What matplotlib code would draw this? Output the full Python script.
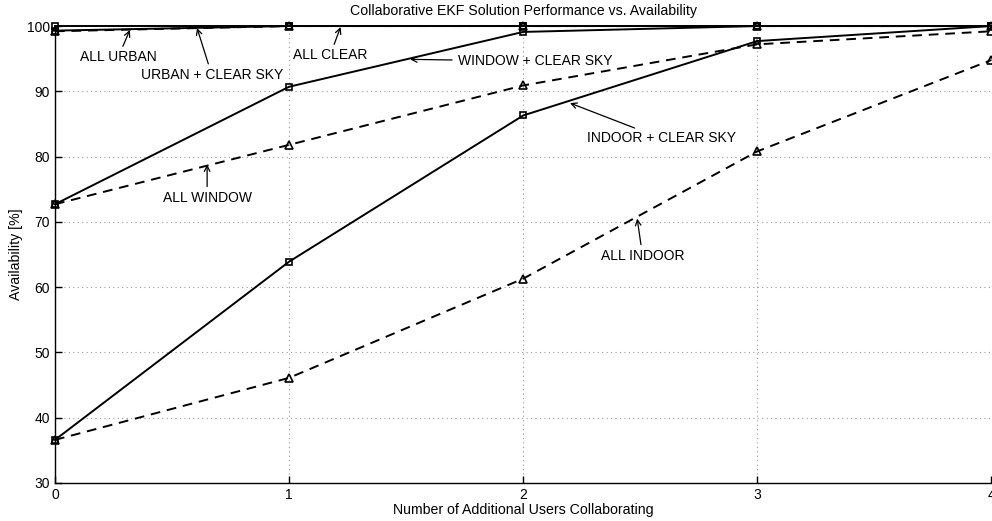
import matplotlib.pyplot as plt

plt.rcParams['font.family'] = ['Liberation Sans', 'DejaVu Sans']

users = [0, 1, 2, 3, 4]

all_clear = [100, 100, 100, 100, 100]
urban_clear = [99.3, 100, 100, 100, 100]
all_urban = [99.2, 100, 100, 100, 100]
window_clear = [72.7, 90.7, 99.1, 100, 100]
all_window = [72.7, 81.8, 90.9, 97.2, 99.2]
indoor_clear = [36.6, 63.9, 86.3, 97.7, 100]
all_indoor = [36.6, 46.1, 61.3, 80.8, 94.8]

# (label, arrow head, text position)
notes = [
    ("ALL URBAN", (0.32, 99.4), (0.27, 95.2)),
    ("URBAN + CLEAR SKY", (0.607, 99.7), (0.67, 92.5)),
    ("ALL CLEAR", (1.22, 99.85), (1.175, 95.5)),
    ("ALL WINDOW", (0.65, 78.8), (0.65, 73.7)),
    ("INDOOR + CLEAR SKY", (2.20, 88.2), (2.59, 82.8)),
    ("ALL INDOOR", (2.487, 70.5), (2.51, 64.8)),
]

fig = plt.figure(figsize=(9.92, 5.21), dpi=100)
ax = fig.add_axes([0.0554, 0.073, 0.944, 0.877])

sq = dict(color='black', lw=1.4, marker='s', ms=4, mfc='none', mew=1.2, clip_on=False)
tri = dict(color='black', lw=1.4, marker='^', ms=5.5, mfc='none', mew=1.2,
           linestyle=(0, (5, 3.5)), clip_on=False)

ax.plot(users, all_indoor, **tri)
ax.plot(users, indoor_clear, **sq)
ax.plot(users, all_window, **tri)
ax.plot(users, window_clear, **sq)
ax.plot(users, all_urban, **tri)
ax.plot(users, urban_clear, **sq)
ax.plot(users, all_clear, **sq)

for txt, head, pos in notes:
    ax.annotate(txt, xy=head, xytext=pos, ha='center', va='center', fontsize=10,
                arrowprops=dict(arrowstyle='->', color='black', lw=0.9,
                                shrinkA=1, shrinkB=0))

ax.annotate("WINDOW + CLEAR SKY", xy=(1.517, 94.9), xytext=(1.72, 94.6),
            ha='left', va='center', fontsize=10,
            arrowprops=dict(arrowstyle='->', color='black', lw=0.9,
                            shrinkA=2, shrinkB=0))

ax.set_xlim(0, 4)
ax.set_ylim(30, 100)
ax.set_xticks(users)
ax.set_yticks(range(30, 101, 10))
ax.grid(True, linestyle=(0, (1, 3)), color='#999999', lw=0.8)
ax.tick_params(direction='in', labelsize=10, length=5, width=1)
ax.spines['top'].set_visible(False)
ax.spines['right'].set_visible(False)
ax.spines['left'].set_linewidth(1)
ax.spines['bottom'].set_linewidth(1)

ax.set_title("Collaborative EKF Solution Performance vs. Availability", fontsize=10.2, pad=8)
ax.set_xlabel("Number of Additional Users Collaborating", fontsize=10.2, labelpad=0.5)
ax.set_ylabel("Availability [%]", fontsize=10.2, labelpad=3)

fig.savefig("out.png", dpi=100)
